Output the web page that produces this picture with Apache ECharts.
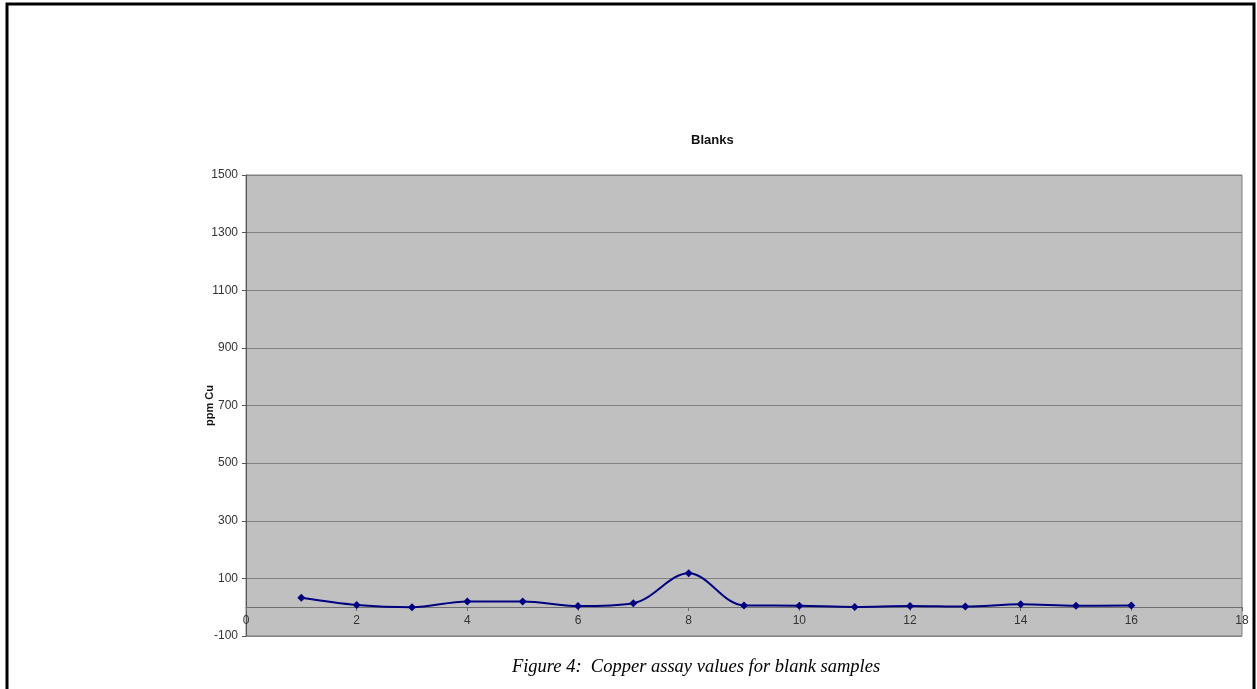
<!DOCTYPE html>
<html>
<head>
<meta charset="utf-8">
<script src="https://cdn.jsdelivr.net/npm/echarts@6/dist/echarts.min.js"></script>
<style>
html,body{margin:0;padding:0;background:#fff;}
#chart{width:1257px;height:689px;}
</style>
</head>
<body>
<div id="chart"></div>
<script>
// Data
const sampleNumbers = [1, 2, 3, 4, 5, 6, 7, 8, 9, 10, 11, 12, 13, 14, 15, 16];
const copperPpm = [33, 8, 0, 20, 20, 4, 14, 118, 6, 5, 1, 4, 2, 10, 5, 6];
const chartTitle = 'Blanks';
const yAxisTitle = 'ppm Cu';
const captionText = 'Figure 4:  Copper assay values for blank samples';

const seriesData = sampleNumbers.map((x, i) => [x, copperPpm[i]]);

const chart = echarts.init(document.getElementById('chart'), null, {renderer: 'canvas'});
chart.setOption({
  animation: false,
  backgroundColor: '#ffffff',
  title: {
    text: chartTitle,
    left: 686, top: 129,
    textStyle: {fontFamily: 'Liberation Sans, Arial', fontWeight: 'bold', fontSize: 13, color: '#111'}
  },
  grid: {
    left: 246, right: 15, top: 175, bottom: 53,
    show: true, backgroundColor: '#c0c0c0', borderColor: '#808080', borderWidth: 1
  },
  xAxis: {
    type: 'value', min: 0, max: 18, interval: 2,
    offset: -29,
    axisLine: {onZero: false, lineStyle: {color: '#707070', width: 1}},
    axisTick: {show: true, length: 4, inside: false, lineStyle: {color: '#707070'}},
    axisLabel: {fontFamily: 'Liberation Sans, Arial', fontSize: 12, color: '#333', margin: 8},
    splitLine: {show: false}
  },
  yAxis: {
    type: 'value', min: -100, max: 1500, interval: 200,
    name: yAxisTitle, nameLocation: 'middle', nameGap: 31, nameRotate: 90,
    nameMoveOverlap: false,
    nameTextStyle: {fontFamily: 'Liberation Sans, Arial', fontWeight: 'bold', fontSize: 11, color: '#111'},
    axisLine: {show: true, lineStyle: {color: '#555', width: 1}},
    axisTick: {show: true, length: 4, lineStyle: {color: '#555'}},
    axisLabel: {fontFamily: 'Liberation Sans, Arial', fontSize: 12, color: '#333', margin: 8,
      formatter: (v) => String(v)},
    splitLine: {show: true, lineStyle: {color: '#808080', width: 1}}
  },
  series: [{
    type: 'line',
    data: seriesData,
    smooth: 0.35,
    symbol: 'diamond',
    symbolSize: 8,
    lineStyle: {color: '#000080', width: 2},
    itemStyle: {color: '#000080'}
  }],
  graphic: [
    {
      type: 'rect', silent: true,
      shape: {x: 7, y: 4, width: 1247, height: 720},
      style: {fill: null, stroke: '#000', lineWidth: 3}
    },
    {
      type: 'text', silent: true,
      x: 696, y: 667,
      style: {
        text: captionText, fill: '#000',
        font: 'italic 18.5px "Liberation Serif", "Times New Roman", serif',
        textAlign: 'center', textVerticalAlign: 'middle'
      }
    }
  ]
});
</script>
</body>
</html>
